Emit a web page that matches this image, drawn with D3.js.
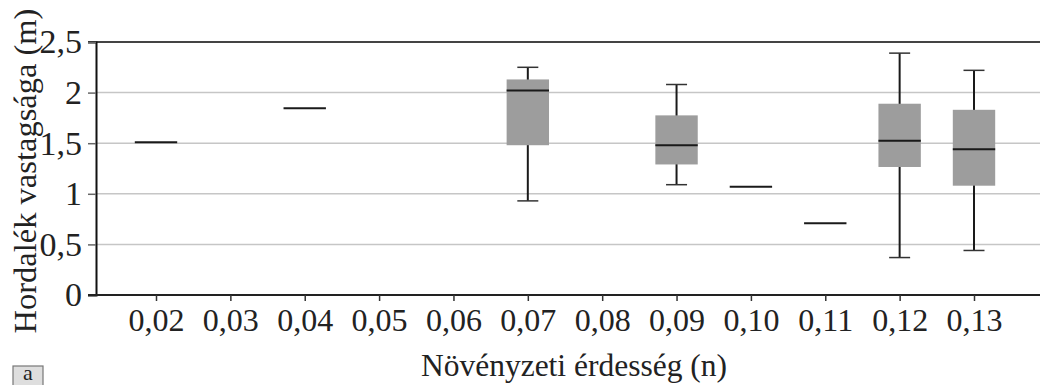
<!DOCTYPE html>
<html>
<head>
<meta charset="utf-8">
<script src="https://cdn.jsdelivr.net/npm/d3@7"></script>
<style>
  html, body { margin: 0; padding: 0; background: #fff; }
  svg { display: block; }
  svg text { font-family: 'Liberation Serif', 'Times New Roman', serif !important; }
</style>
</head>
<body>
<svg id="chart" width="1040" height="385"></svg>
<script>
// Roughness coefficient classes (x axis)
const categories = ["0,02","0,03","0,04","0,05","0,06","0,07","0,08","0,09","0,10","0,11","0,12","0,13"];
// Sediment thickness statistics per class (m); null = no observation
const whiskerLow  = [1.51, null, 1.845, null, null, 0.93, null, 1.09, 1.07, 0.71, 0.37, 0.44];
const q1          = [1.51, null, 1.845, null, null, 1.48, null, 1.29, 1.07, 0.71, 1.265, 1.08];
const medians     = [1.51, null, 1.845, null, null, 2.02, null, 1.48, 1.07, 0.71, 1.525, 1.44];
const q3          = [1.51, null, 1.845, null, null, 2.13, null, 1.775, 1.07, 0.71, 1.89, 1.83];
const whiskerHigh = [1.51, null, 1.845, null, null, 2.25, null, 2.08, 1.07, 0.71, 2.39, 2.22];
const yTicks = [0, 0.5, 1, 1.5, 2, 2.5];

const svg = d3.select("#chart");
const plotLeft = 96, plotRight = 1040, plotTop = 42, plotBottom = 295;

const x = d3.scalePoint().domain(categories).range([156, 974]);
const y = d3.scaleLinear().domain([0, 2.5]).range([plotBottom, plotTop]);
const boxW = x.step() * 0.57;
const capW = 21;
const fmt = v => String(v).replace(".", ",");

// Horizontal gridlines
svg.append("g").selectAll("line").data(yTicks.filter(t => t > 0 && t < 2.5)).join("line")
  .attr("x1", plotLeft).attr("x2", plotRight)
  .attr("y1", d => y(d)).attr("y2", d => y(d))
  .attr("stroke", "#c6c6c6").attr("stroke-width", 1.5);

// Top frame line
svg.append("line").attr("x1", plotLeft - 8).attr("x2", plotRight)
  .attr("y1", y(2.5)).attr("y2", y(2.5))
  .attr("stroke", "#444").attr("stroke-width", 2);

// Y axis
const yAxis = svg.append("g").attr("transform", `translate(${plotLeft},0)`)
  .call(d3.axisLeft(y).tickValues(yTicks).tickFormat(fmt).tickSize(8).tickPadding(6));
yAxis.select(".domain").attr("stroke", "#111").attr("stroke-width", 2);
yAxis.selectAll(".tick line").attr("stroke", "#666").attr("stroke-width", 1.5);
yAxis.selectAll(".tick text").attr("font-size", 34).attr("fill", "#222");

// X axis
const xAxis = svg.append("g").attr("transform", `translate(0,${plotBottom})`)
  .call(d3.axisBottom(x).tickSize(6).tickPadding(7));
xAxis.select(".domain").attr("d", `M${plotLeft - 8},0H${plotRight}`).attr("stroke", "#222").attr("stroke-width", 2);
xAxis.selectAll(".tick line").attr("stroke", "#333").attr("stroke-width", 1.5);
xAxis.selectAll(".tick text").attr("font-size", 32).attr("fill", "#222");

// Box plots
const data = categories.map((c, i) => ({
  c, lo: whiskerLow[i], q1: q1[i], med: medians[i], q3: q3[i], hi: whiskerHigh[i]
})).filter(d => d.med !== null);

const g = svg.append("g");
data.forEach(d => {
  const cx = x(d.c);
  if (d.hi > d.lo) {
    g.append("line").attr("x1", cx).attr("x2", cx).attr("y1", y(d.hi)).attr("y2", y(d.lo))
      .attr("stroke", "#1a1a1a").attr("stroke-width", 2);
    [d.hi, d.lo].forEach(v => g.append("line")
      .attr("x1", cx - capW / 2).attr("x2", cx + capW / 2).attr("y1", y(v)).attr("y2", y(v))
      .attr("stroke", "#333").attr("stroke-width", 1.5));
    g.append("rect").attr("x", cx - boxW / 2).attr("width", boxW)
      .attr("y", y(d.q3)).attr("height", y(d.q1) - y(d.q3))
      .attr("fill", "#9d9d9d");
  }
  g.append("line").attr("x1", cx - boxW / 2).attr("x2", cx + boxW / 2)
    .attr("y1", y(d.med)).attr("y2", y(d.med))
    .attr("stroke", "#1a1a1a").attr("stroke-width", 2);
});

// Axis titles
svg.append("text").attr("transform", "translate(36,171) rotate(-90)")
  .attr("text-anchor", "middle").attr("font-size", 32.5).attr("fill", "#222")
  .text("Hordalék vastagsága (m)");
svg.append("text").attr("x", 574).attr("y", 376)
  .attr("text-anchor", "middle").attr("font-size", 31.5).attr("fill", "#222")
  .text("Növényzeti érdesség (n)");

// Panel label
svg.append("rect").attr("x", 13).attr("y", 366).attr("width", 30).attr("height", 22)
  .attr("fill", "#dedede").attr("stroke", "#777").attr("stroke-width", 1.2);
svg.append("text").attr("x", 28).attr("y", 380).attr("text-anchor", "middle")
  .attr("font-size", 22).attr("fill", "#222").text("a");
</script>
</body>
</html>
